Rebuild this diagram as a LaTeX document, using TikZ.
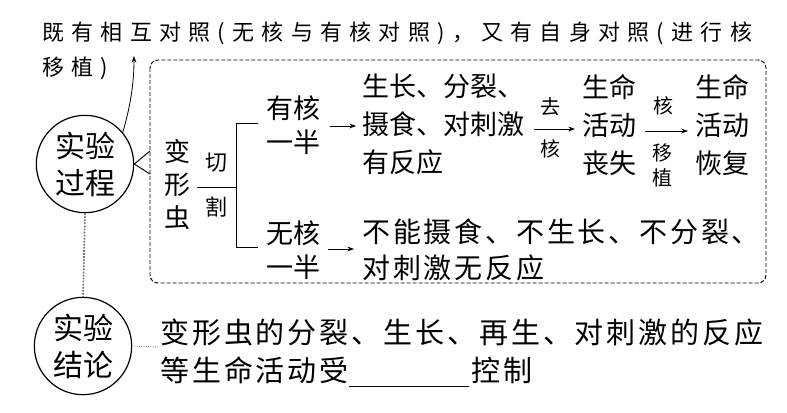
\documentclass[tikz,border=0pt]{standalone}
\usepackage{fontspec}
\newfontfamily\cjk{Noto Sans CJK SC}
\usetikzlibrary{arrows.meta}
\begin{document}
\begin{tikzpicture}[x=0.75pt,y=-0.75pt,
  every node/.style={inner sep=0pt},
  txt/.style={font=\cjk\fontsize{20.25pt}{28.5pt}\selectfont, align=center},
  half/.style={font=\cjk\fontsize{20.25pt}{26pt}\selectfont, align=center},
  lbl/.style={font=\cjk\fontsize{15pt}{18.75pt}\selectfont, align=center},
  arr/.style={-{Stealth[length=5pt,width=3.6pt]}, line width=0.6pt},
  ring/.style={draw, circle, line width=0.9pt, minimum size=73pt, font=\cjk\fontsize{22.5pt}{27.75pt}\selectfont, align=center},
  lnk/.style={black!55, line width=1.3pt, densely dotted},
  wire/.style={line width=0.7pt}
  ]
\useasboundingbox (0,0) rectangle (787,412);

% top remark
\node[anchor=west, font=\cjk\fontsize{16.5pt}{20pt}\selectfont\addfontfeature{LetterSpace=33}] (top1) at (42,33) {既有相互对照(无核与有核对照)，又有自身对照(进行核};
\node[anchor=west, font=\cjk\fontsize{16.5pt}{20pt}\selectfont\addfontfeature{LetterSpace=33}] (top2) at (42,68) {移植)};

% circles
\node[ring] (c1) at (85,164) {实验\\过程};
\node[ring] (c2) at (83,346) {实验\\结论};
\coordinate (tip) at (134,56);
\draw[arr] (c1.40) .. controls (130,108) and (134,84) .. (tip);
\draw[lnk] (c1.south) -- (c2.north);
\coordinate (tick) at (158,347);
\draw[black!50, line width=0.7pt, densely dotted] (c2.east) -- (tick);

% dashed frame
\draw[dashed, dash pattern=on 3pt off 1.5pt, line width=0.7pt, rounded corners=6pt] (150,60) rectangle (766,283);
\coordinate (n1) at (150,151);
\coordinate (n2) at (150,174);
\draw[wire] (n1) -- (c1.east) -- (n2);

% amoeba and cut
\node[font=\cjk\fontsize{19.5pt}{24.75pt}\selectfont, align=center] (amoeba) at (177,185) {变\\形\\虫};
\node[font=\cjk\fontsize{16.5pt}{18pt}\selectfont] (qie) at (216,163) {切};
\node[font=\cjk\fontsize{16.5pt}{18pt}\selectfont] (ge) at (216,207) {割};
\coordinate (cutL) at (197,187);
\coordinate (cutR) at (236,187);
\coordinate (brT) at (258,123);
\coordinate (brB) at (258,247);
\draw[wire] (cutL) -- (cutR);
\draw[wire] (brT) -- (236,123) -- (236,247) -- (brB);

% with nucleus
\node[half] (yh) at (293,125) {有核\\一半};
\coordinate (a1s) at (330,126);
\coordinate (a1e) at (356,126);
\draw[arr] (a1s) -- (a1e);
\node[txt, align=left, anchor=west] (yhr) at (362,124) {生长、分裂、\\摄食、对刺激\\有反应};
\node[lbl] (qu) at (550,107) {去};
\node[lbl] (he1) at (550,149) {核};
\coordinate (a2s) at (534,129);
\coordinate (a2e) at (575,129);
\draw[arr] (a2s) -- (a2e);
\node[txt] (loss) at (609,125) {生命\\活动\\丧失};
\node[lbl] (he2) at (663,106) {核};
\node[lbl] (yz) at (662,165) {移\\植};
\coordinate (a3s) at (645,131);
\coordinate (a3e) at (688,131);
\draw[arr] (a3s) -- (a3e);
\node[txt] (rec) at (722,125) {生命\\活动\\恢复};

% without nucleus
\node[half] (wh) at (293,250) {无核\\一半};
\coordinate (a4s) at (328,249);
\coordinate (a4e) at (354,249);
\draw[arr] (a4s) -- (a4e);
\node[align=left, anchor=west, font=\cjk\fontsize{21pt}{27pt}\selectfont\addfontfeature{LetterSpace=10}] (whr) at (362,250) {不能摄食、不生长、不分裂、\\对刺激无反应};

% conclusion
\node[anchor=west, font=\cjk\fontsize{21.75pt}{26pt}\selectfont\addfontfeature{LetterSpace=10}] (cl1) at (160,332) {变形虫的分裂、生长、再生、对刺激的反应};
\node[anchor=west, font=\cjk\fontsize{21.75pt}{26pt}\selectfont\addfontfeature{LetterSpace=10}] (cl2) at (160,372) {等生命活动受\rule[-4pt]{90pt}{0.7pt}\hspace{2pt}控制};
\end{tikzpicture}
\end{document}
